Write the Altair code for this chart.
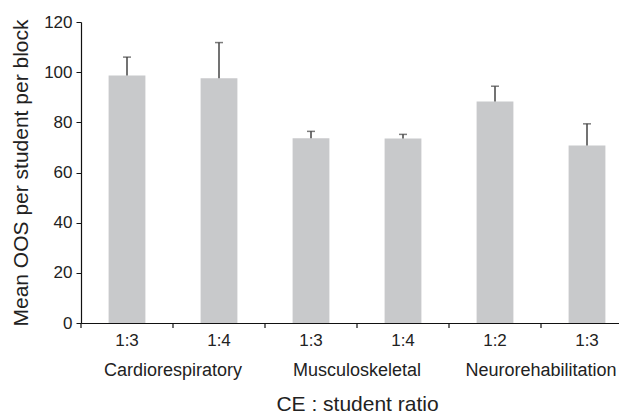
import altair as alt
import pandas as pd

groups = ["Cardiorespiratory", "Cardiorespiratory", "Musculoskeletal",
          "Musculoskeletal", "Neurorehabilitation", "Neurorehabilitation"]
ratios = ["1:3", "1:4", "1:3", "1:4", "1:2", "1:3"]
means = [98.7, 97.6, 73.7, 73.6, 88.3, 70.8]
upper = [106.0, 111.8, 76.4, 75.2, 94.4, 79.4]
group_names = ["Cardiorespiratory", "Musculoskeletal", "Neurorehabilitation"]
group_mid_idx = [1, 3, 5]
y_ticks = [0, 20, 40, 60, 80, 100, 120]

df = pd.DataFrame({"idx": list(range(len(ratios))), "group": groups,
                   "ratio": ratios, "mean": means, "upper": upper})
gdf = pd.DataFrame({"group": group_names, "idx": group_mid_idx})

FONT = "Liberation Sans"
TXT = "#222222"
label_expr = "[" + ",".join(f"'{r}'" for r in ratios) + "][datum.value]"

xscale = alt.Scale(domain=list(range(len(ratios))), range=[0, 552],
                   paddingInner=0, paddingOuter=0)
yscale = alt.Scale(domain=[0, 120], nice=False)

xaxis = alt.Axis(labelExpr=label_expr, labelAngle=0, labelFontSize=17,
                 labelColor=TXT, labelPadding=9, ticks=False, tickSize=0,
                 domainColor="#111111", domainWidth=1.2,
                 titleFontSize=21, titleFontWeight="normal", titleColor=TXT,
                 titleX=276, titleY=87, titleBaseline="alphabetic",
                 titleAlign="center")
yaxis = alt.Axis(values=y_ticks, tickSize=5, tickColor="#111111",
                 domainColor="#111111", domainWidth=1.2, labelFontSize=17,
                 labelColor=TXT, labelPadding=4, grid=False,
                 titleFontSize=21, titleFontWeight="normal", titleColor=TXT,
                 titleX=-54, titleY=150.5, titleBaseline="alphabetic",
                 titleAlign="center")

X = alt.X("idx:O", scale=xscale, axis=xaxis, title="CE : student ratio")
Y = alt.Y("mean:Q", scale=yscale, axis=yaxis,
          title="Mean OOS per student per block")

bars = alt.Chart(df).mark_bar(color="#c8c9cb", width=alt.RelativeBandSize(0.4)).encode(x=X, y=Y)

err = alt.Chart(df).mark_rule(color="#444444", strokeWidth=1.5).encode(
    x=X, y=Y, y2="upper:Q")

caps = alt.Chart(df).mark_tick(color="#444444", size=8, thickness=1.5).encode(
    x=X, y=alt.Y("upper:Q", scale=yscale, axis=yaxis,
                  title="Mean OOS per student per block"))

bticks = alt.Chart(df).mark_rule(color="#111111", strokeWidth=1.2).encode(
    x=alt.X("idx:O", scale=xscale, axis=xaxis, title="CE : student ratio",
            bandPosition=0),
    y=alt.value(301), y2=alt.value(306))

gtext = alt.Chart(gdf).mark_text(font=FONT, fontSize=18, color=TXT,
                                 baseline="alphabetic", align="center").encode(
    x=alt.X("idx:O", scale=xscale, axis=xaxis, title="CE : student ratio",
            bandPosition=0),
    y=alt.value(354), text="group:N")

chart = alt.layer(bars, err, caps, bticks, gtext).properties(
    width=538, height=301,
    autosize=alt.AutoSizeParams(type="none"),
    padding={"left": 73, "top": 14, "right": 0, "bottom": 92},
).configure(font=FONT).configure_view(stroke=None)

chart.save("out.html", embed_options={"renderer": "svg", "actions": False})
